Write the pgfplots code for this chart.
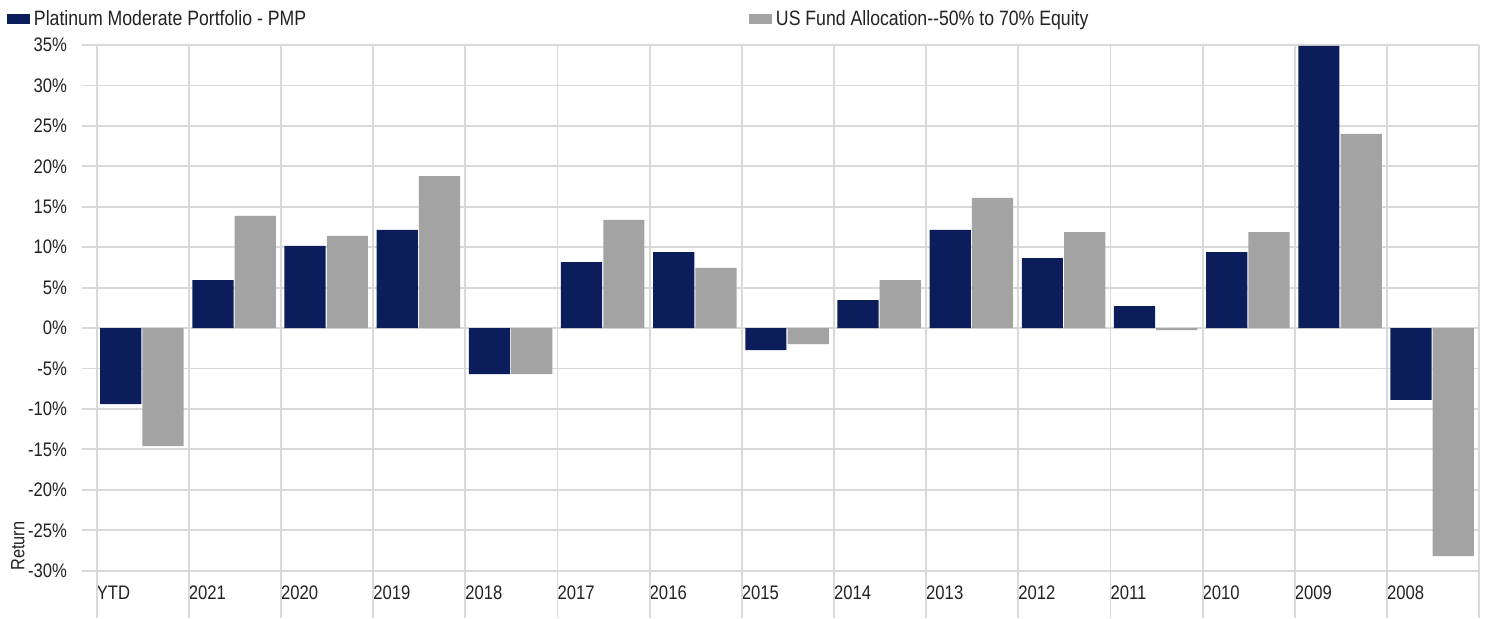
\documentclass[border=0pt]{standalone}
\usepackage{fontspec}
\setmainfont{Liberation Sans}[FakeStretch=0.85]
\usepackage{pgfplots}
\pgfplotsset{compat=1.18}
\definecolor{navy}{HTML}{0B1E5B}
\definecolor{bargray}{HTML}{A3A3A3}
\definecolor{gridc}{HTML}{D9D9D9}
\definecolor{txt}{HTML}{222222}
\begin{document}
\begin{tikzpicture}
\useasboundingbox (0pt,0pt) rectangle (743pt,309pt);
\begin{axis}[
  at={(48.35pt,23.65pt)}, anchor=south west,
  scale only axis, width=691.2pt, height=262.85pt,
  xmin=0, xmax=15, ymin=-30, ymax=35,
  clip=false,
  axis line style={draw=none},
  xtick={0,...,15},
  xticklabels={YTD,2021,2020,2019,2018,2017,2016,2015,2014,2013,2012,2011,2010,2009,2008,{}},
  ytick={-30,-25,...,35},
  yticklabel={\pgfmathprintnumber{\tick}\%},
  /pgf/number format/assume math mode=true,
  xmajorgrids, ymajorgrids,
  major grid style={draw=gridc, line width=0.95pt},
  tick align=outside, major tick length=7.35pt,
  xtick pos=bottom, ytick pos=left,
  xtick style={draw=none},
  ytick style={draw=gridc, line width=0.95pt},
  tick label style={font=\fontsize{9.8}{12}\selectfont, text=txt},
  xticklabel style={anchor=west, xshift=-3.5pt, yshift=-3.6pt},
  yticklabel style={anchor=east, xshift=-4pt},
  ylabel={Return},
  ylabel style={at={(axis description cs:-0.057,0.047)}, anchor=center, rotate=0, font=\fontsize{9.6}{12}\selectfont, text=txt},
  legend columns=2,
  legend style={at={(axis description cs:-0.0649,1.0495)}, anchor=west, draw=none, fill=none,
    inner sep=0pt, outer sep=0pt, font=\fontsize{10.4}{12}\selectfont, text=txt,
    /tikz/every odd column/.style={column sep=0pt}},
  legend cell align=left,
  legend image code/.code={\fill[#1] (0pt,-2.5pt) rectangle (11.5pt,2.5pt);},
]
\addplot[ybar, bar width=20.6pt, bar shift=0pt, fill=navy, draw=none] coordinates {
(0.261,-9.4) (1.261,5.94) (2.261,10.15) (3.261,12.13) (4.261,-5.7) (5.261,8.17) (6.261,9.4) (7.261,-2.72) (8.261,3.47) (9.261,12.13) (10.261,8.66) (11.261,2.72) (12.261,9.4) (13.261,34.9) (14.261,-8.87)
};
\addlegendentry{\makebox[355.5pt][l]{Platinum Moderate Portfolio - PMP}}
\addplot[ybar, bar width=20.6pt, bar shift=0pt, fill=bargray, draw=none] coordinates {
(0.72,-14.6) (1.72,13.86) (2.72,11.39) (3.72,18.8) (4.72,-5.7) (5.72,13.37) (6.72,7.43) (7.72,-1.98) (8.72,5.94) (9.72,16.09) (10.72,11.88) (11.72,-0.25) (12.72,11.88) (13.72,24.0) (14.72,-28.2)
};
\addlegendentry{US Fund Allocation-{}-50\% to 70\% Equity}
\pgfplotsinvokeforeach{0,...,15}{\draw[gridc, line width=0.95pt] (axis cs:#1,-30) -- ++(0pt,-23.65pt);}
\end{axis}
\end{tikzpicture}
\end{document}
